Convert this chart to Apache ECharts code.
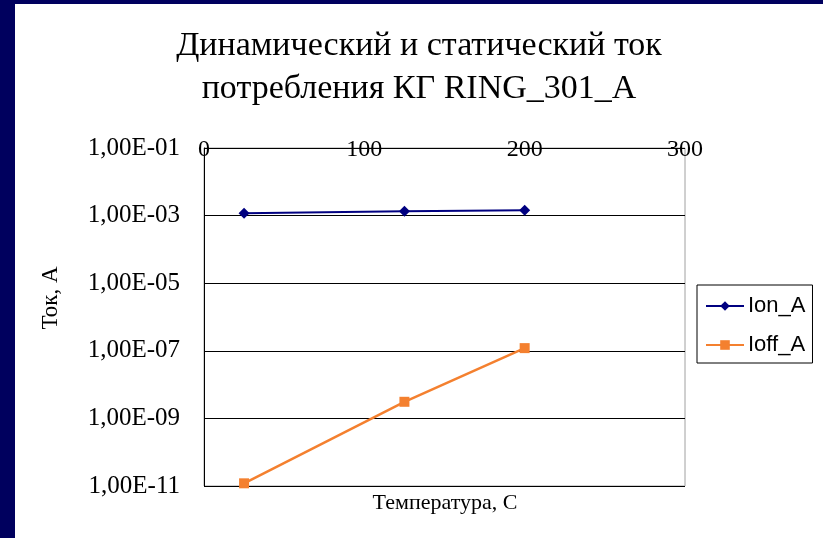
<!DOCTYPE html>
<html>
<head>
<meta charset="utf-8">
<script src="https://cdn.jsdelivr.net/npm/echarts@6/dist/echarts.min.js"></script>
<style>
html,body{margin:0;padding:0;width:823px;height:538px;background:#00005E;overflow:hidden;}
#chart{position:absolute;left:15px;top:4px;width:808px;height:534px;background:#fff;}
</style>
</head>
<body>
<div id="chart"></div>
<script>
const titleLines = ["Динамический и статический ток", "потребления КГ RING_301_A"];
const temperatures = [25, 125, 200];
const ionA = [1.17e-3, 1.34e-3, 1.44e-3];
const ioffA = [1.2e-11, 3.1e-9, 1.2e-7];
const seriesNames = ["Ion_A", "Ioff_A"];
const xTicks = [0, 100, 200, 300];
const yTickLabels = ["1,00E-11", "1,00E-09", "1,00E-07", "1,00E-05", "1,00E-03", "1,00E-01"];
const yAxisTitle = "Ток, А";
const xAxisTitle = "Температура, С";

const serif = "'Liberation Serif','Times New Roman',serif";
const sans = "'Liberation Sans',Arial,sans-serif";

const chart = echarts.init(document.getElementById('chart'), null, {renderer: 'canvas'});
chart.setOption({
  animation: false,
  title: {
    text: titleLines.join("\n"),
    left: 'center',
    top: 16,
    textStyle: {fontFamily: serif, fontSize: 34, fontWeight: 'normal', color: '#000', lineHeight: 43}
  },
  grid: {left: 189, top: 144, right: 138, bottom: 52, show: true, borderColor: '#a0a0a0', borderWidth: 1, backgroundColor: 'transparent'},
  legend: {
    orient: 'vertical',
    left: 682, top: 281,
    padding: [10, 7, 7, 8],
    itemGap: 17,
    itemWidth: 38, itemHeight: 12,
    borderColor: '#000', borderWidth: 1,
    backgroundColor: '#fff',
    textStyle: {fontFamily: sans, fontSize: 22, color: '#000', padding: [0, 0, 0, -1]},
    data: seriesNames
  },
  xAxis: {
    type: 'value',
    position: 'top',
    min: 0, max: 300, interval: 100,
    axisLine: {show: false},
    axisTick: {show: false},
    splitLine: {show: false},
    axisLabel: {
      fontFamily: serif, fontSize: 24, color: '#000',
      margin: -2,
      verticalAlign: 'middle',
      formatter: v => String(xTicks[xTicks.indexOf(v)])
    }
  },
  yAxis: {
    type: 'log',
    logBase: 10,
    min: 1e-11, max: 1e-1,
    interval: 2,
    axisLine: {show: true, lineStyle: {color: '#000', width: 1}},
    axisTick: {show: false},
    splitLine: {show: true, lineStyle: {color: '#000', width: 1}},
    axisLabel: {
      fontFamily: serif, fontSize: 25, color: '#000', margin: 24,
      formatter: v => {
        const e = Math.round(Math.log10(v));
        return yTickLabels[(e + 11) / 2];
      }
    }
  },
  graphic: [{
    type: 'text',
    x: 36, y: 294,
    rotation: Math.PI / 2,
    style: {text: yAxisTitle, font: "23px 'Liberation Serif','Times New Roman',serif", fill: '#000', align: 'center', verticalAlign: 'middle'}
  }, {
    type: 'text',
    x: 430, y: 499,
    style: {text: xAxisTitle, font: "22px 'Liberation Serif','Times New Roman',serif", fill: '#000', align: 'center', verticalAlign: 'middle'}
  }],
  series: [
    {
      name: seriesNames[0], type: 'line',
      data: temperatures.map((t, i) => [t, ionA[i]]),
      symbol: 'diamond', symbolSize: 11,
      lineStyle: {color: '#000080', width: 2},
      itemStyle: {color: '#000080'},
      clip: false
    },
    {
      name: seriesNames[1], type: 'line',
      data: temperatures.map((t, i) => [t, ioffA[i]]),
      symbol: 'rect', symbolSize: 10,
      lineStyle: {color: '#F4802F', width: 2.5},
      itemStyle: {color: '#F4802F'},
      clip: false
    }
  ]
});
</script>
</body>
</html>
